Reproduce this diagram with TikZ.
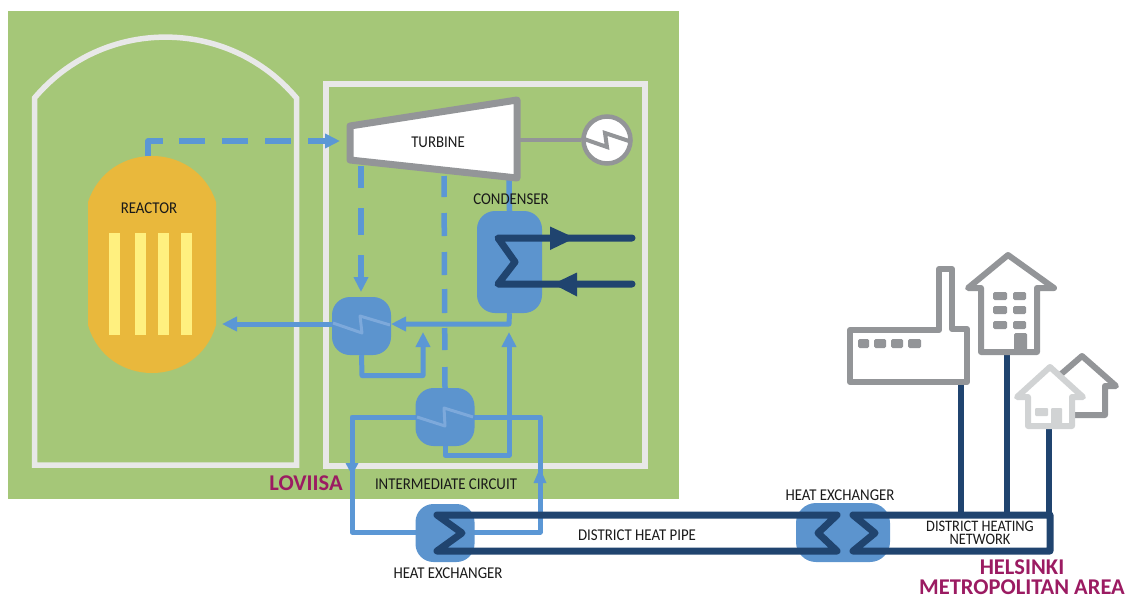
\documentclass[tikz,border=0pt]{standalone}
\usepackage{fontspec}
\setmainfont[FakeStretch=0.9]{Carlito}
\newfontfamily\placefont[BoldFont={Carlito Bold}]{Carlito}
\usetikzlibrary{arrows.meta}
\definecolor{gbg}{HTML}{A5C778}
\definecolor{wall}{HTML}{E8E8E8}
\definecolor{pipeblue}{HTML}{5B97D5}
\definecolor{hxblue}{HTML}{5C94CE}
\definecolor{zigblue}{HTML}{7DA9DB}
\definecolor{navy}{HTML}{20446F}
\definecolor{greyline}{HTML}{939598}
\definecolor{lightgrey}{HTML}{D1D3D4}
\definecolor{berry}{HTML}{9B1B62}
\definecolor{reactorcol}{HTML}{E9B83C}
\definecolor{rodcol}{HTML}{FFF07F}
\tikzset{
  wallline/.style={draw=wall,line width=5.5pt},
  pipe/.style={draw=pipeblue,line width=5pt,line join=round,line cap=round},
  steam/.style={pipe,line width=5.5pt},
  blueflow/.style={-{Triangle[length=15pt,width=14pt]}},
  darkpipe/.style={draw=navy,line width=7pt,line join=round,line cap=round},
  hxbox/.style={fill=hxblue,inner sep=0pt,rounded corners=18pt,minimum width=59pt,minimum height=58pt},
  zig/.style={draw=zigblue,line width=3pt,line join=round},
  lbl/.style={inner sep=0pt,font=\fontsize{16.5}{16.5}\selectfont,text=black!90},
  place/.style={inner sep=0pt,font=\placefont\fontsize{22.5}{20}\selectfont\bfseries,text=berry,align=center},
  bldg/.style={draw=greyline,line width=6pt,line join=round},
  bldgfill/.style={fill=greyline,rounded corners=1.5pt},
  lbldg/.style={draw=lightgrey,line width=6pt,line join=round,fill=white},
  lbldgfill/.style={fill=lightgrey,rounded corners=1pt}
}
\begin{document}
\begin{tikzpicture}[x=1pt,y=-1pt]
\useasboundingbox (0,0) rectangle (1129,598);
\fill[gbg] (8,11) rectangle (679,499);
% containment
\draw[wallline,line join=miter] (34.5,465) -- (34.5,98) .. controls (102.9,16.8) and (228.1,16.8) .. (296.5,98) -- (296.5,465) -- cycle;
\draw[wallline] (326,84) rectangle (645,466);
% reactor
\fill[reactorcol] (88,202) .. controls (108.5,140.6) and (195.5,140.6) .. (216,202) -- (216,325) .. controls (197.3,389) and (106.7,389) .. (88,325) -- cycle;
\foreach \a/\b in {109/120,135/146,158/169,181/192} \fill[rodcol] (\a,233) rectangle (\b,335);
\coordinate (reactorTop) at (148,156);
\coordinate (reactorIn) at (222,324);
\node[lbl] (reactorLbl) at (149,208) {REACTOR};
% nodes
\node[hxbox] (hxA) at (361.5,326) {};
\node[hxbox,minimum width=65pt,minimum height=102pt] (cond) at (509.5,262) {};
\coordinate (turbL) at (361,166);
\coordinate (turbM) at (444,176);
\coordinate (turbR) at (509,178);
\coordinate (turbIn) at (340,141);
\coordinate (turbOut) at (517,140);
% connectors: steam
\draw[steam,line cap=butt,blueflow,dash pattern=on 29.5 off 16.5 on 26 off 17 on 26 off 17 on 26 off 17 on 40] (reactorTop) -- (148,141) -- (turbIn);
\draw[steam,line cap=butt,blueflow,dash pattern=on 22 off 20 on 27 off 20 on 40] (turbL) -- (361,292);
\coordinate (hxBtop) at (445,388);
\draw[steam,line cap=butt,dash pattern=on 21 off 16 on 23 off 16 on 23 off 14 on 24 off 15 on 22 off 17 on 30] (turbM) -- (hxBtop);
\draw[steam,line cap=butt] (turbR) -- (cond.north);
% water
\draw[pipe,line cap=butt,blueflow] (cond.south) -- (509,324) -- (391,324);
\draw[pipe,line cap=butt,blueflow] (hxA.west) ++(0,-2) -- (reactorIn);
\draw[pipe,line cap=butt,blueflow] (hxA.south) -- (362,375.5) -- (423,375.5) -- (423,332);
\coordinate (hxBbot) at (445,446);
\draw[pipe,line cap=butt,blueflow] (hxBbot) -- (445,455) -- (509,455) -- (509,332);
% intermediate circuit
\coordinate (hxBl) at (417,417);
\coordinate (hxBr) at (473,417);
\coordinate (hxCl) at (417,532);
\coordinate (hxCr) at (473,532);
\draw[pipe] (hxBl) -- (352,417) -- (352,532) -- (hxCl);
\draw[pipe] (hxBr) -- (540,417) -- (540,532) -- (hxCr);
\fill[pipeblue] (352,475) -- (345.5,463) -- (358.5,463) -- cycle;
\fill[pipeblue] (540,468) -- (533.5,483) -- (546.5,483) -- cycle;
\node[hxbox] (hxB) at (445,417) {};
\node[hxbox] (hxC) at (445,533) {};
\node[hxbox,minimum width=94pt,minimum height=59pt,rounded corners=20pt] (hxD) at (843,532.5) {};
% zigzags
\draw[zig] (333,323) -- (362,333) -- (360,316) -- (390,325);
\draw[zig] (417,417) -- (445,426) -- (444,408) -- (473,417);
% condenser coil
\draw[darkpipe] (632,238) -- (498,238) -- (515,262) -- (498,284) -- (632,284);
\fill[navy] (575,238) -- (550,226.5) -- (550,250) -- cycle;
\fill[navy] (553,284) -- (577,272.5) -- (577,296.5) -- cycle;
% turbine
\draw[draw=greyline,line width=7pt,line join=round,fill=white] (350,126) -- (517,100) -- (517,178) -- (350,160) -- cycle;
\node[lbl] (turbineLbl) at (438,142.5) {TURBINE};
% generator
\node[circle,draw=greyline,fill=white,line width=4.5pt,minimum size=47pt,inner sep=0pt] (gen) at (607,140) {};
\draw[draw=greyline,line width=4.5pt] (turbOut) -- (gen.west);
\draw[draw=greyline,line width=4pt,line join=miter] (gen.west) ++(0,-2) -- (607,147) -- (605,133) -- (632,142);
\node[lbl] (condLbl) at (511,199) {CONDENSER};
% buildings' supply lines
\coordinate (factoryBase) at (961,384);
\coordinate (tallBase) at (1007,355);
\coordinate (houseBase) at (1049,428);
\draw[draw=navy,line width=6pt] (factoryBase) -- (961,515);
\draw[draw=navy,line width=6pt] (tallBase) -- (1007,515);
\draw[draw=navy,line width=6pt] (houseBase) -- (1049,515);
% district pipes
\draw[darkpipe] (1050,515) -- (853,515) -- (875,533) -- (853,551) -- (1050,551) -- cycle;
\draw[darkpipe] (837,515) -- (437,515) -- (462,533) -- (437,551) -- (837,551) -- (818,533) -- cycle;
% buildings
\draw[bldg,fill=white] (850,330) -- (939,330) -- (939,269) -- (952,269) -- (952,329) -- (967,329) -- (967,382) -- (850,382) -- cycle;
\foreach \a/\b in {858/869,874/886,891/903,908/921} \fill[bldgfill] (\a,339) rectangle (\b,348);
\draw[bldg,fill=white] (981,352) -- (981,288) -- (968,288) -- (1008,255) -- (1054,288) -- (1037,288) -- (1037,352) -- cycle;
\foreach \y in {292,306,321} {\fill[bldgfill] (993,\y) rectangle ++(14,8); \fill[bldgfill] (1013,\y) rectangle ++(13,8);}
\fill[bldgfill] (1014,333) rectangle (1027,352);
\draw[bldg] (1060,375) -- (1082,356) -- (1116,386) -- (1105,386) -- (1105,415) -- (1070,415);
\draw[lbldg] (1028,426) -- (1028,397) -- (1017,397) -- (1050,367) -- (1083,397) -- (1072,397) -- (1072,426) -- cycle;
\fill[lbldgfill] (1035,408) rectangle (1048,416);
\fill[lbldgfill] (1051,408) rectangle (1062,426);
% labels
\node[lbl] (intLbl) at (446,484) {INTERMEDIATE CIRCUIT};
\node[lbl] (hxCLbl) at (448,573) {HEAT EXCHANGER};
\node[lbl] (hxDLbl) at (840,495) {HEAT EXCHANGER};
\node[lbl] (pipeLbl) at (637,535) {DISTRICT HEAT PIPE};
\node[lbl,align=center,font=\fontsize{16}{13.5}\selectfont] (netLbl) at (980,533) {DISTRICT HEATING\\NETWORK};
\node[place] (loviisa) at (306,483) {LOVIISA};
\node[place] (helsinki) at (1022,577) {HELSINKI\\METROPOLITAN AREA};
\end{tikzpicture}
\end{document}
